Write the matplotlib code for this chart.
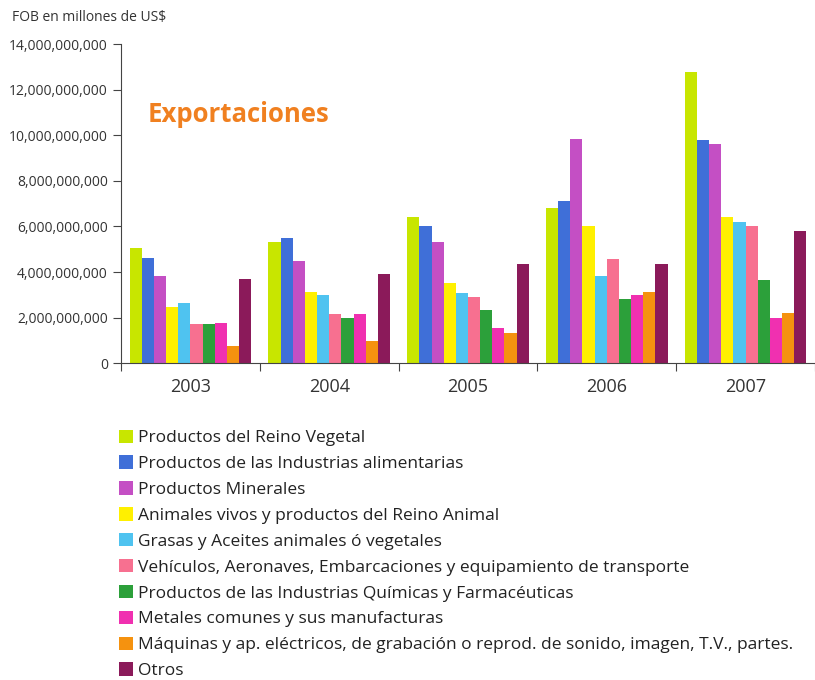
import numpy as np
import matplotlib
matplotlib.use("Agg")
import matplotlib.pyplot as plt

plt.rcParams['font.family'] = ['Open Sans', 'DejaVu Sans']

years = ['2003', '2004', '2005', '2006', '2007']

categories = [
    'Productos del Reino Vegetal',
    'Productos de las Industrias alimentarias',
    'Productos Minerales',
    'Animales vivos y productos del Reino Animal',
    'Grasas y Aceites animales ó vegetales',
    'Vehículos, Aeronaves, Embarcaciones y equipamiento de transporte',
    'Productos de las Industrias Químicas y Farmacéuticas',
    'Metales comunes y sus manufacturas',
    'Máquinas y ap. eléctricos, de grabación o reprod. de sonido, imagen, T.V., partes.',
    'Otros',
]

# values in US$, one list per category (2003..2007)
reino_vegetal = [5.05e9, 5.32e9, 6.40e9, 6.82e9, 12.77e9]
ind_alimentarias = [4.62e9, 5.50e9, 6.00e9, 7.12e9, 9.80e9]
minerales = [3.82e9, 4.50e9, 5.32e9, 9.84e9, 9.60e9]
reino_animal = [2.45e9, 3.13e9, 3.51e9, 6.03e9, 6.40e9]
grasas_aceites = [2.66e9, 2.97e9, 3.08e9, 3.84e9, 6.19e9]
vehiculos = [1.71e9, 2.15e9, 2.90e9, 4.58e9, 6.00e9]
quimicas = [1.70e9, 2.00e9, 2.32e9, 2.82e9, 3.65e9]
metales = [1.77e9, 2.16e9, 1.54e9, 2.97e9, 2.00e9]
maquinas = [0.76e9, 0.97e9, 1.32e9, 3.12e9, 2.18e9]
otros = [3.68e9, 3.93e9, 4.33e9, 4.34e9, 5.82e9]

series = [reino_vegetal, ind_alimentarias, minerales, reino_animal, grasas_aceites,
          vehiculos, quimicas, metales, maquinas, otros]

colors = ['#c8e600', '#3f6fd8', '#c44fc4', '#fff000', '#4fc3f0',
          '#f77090', '#2ca03a', '#f030b0', '#f5920f', '#8b1a5a']

fig = plt.figure(figsize=(8.15, 6.8), dpi=100)
ax = fig.add_axes([0.1485, 0.466, 0.8515, 0.469])

x = np.arange(len(years))
w = 0.0876
for i, (vals, c, lab) in enumerate(zip(series, colors, categories)):
    ax.bar(x + (i - 4.5) * w, vals, width=w, color=c, label=lab)

ax.set_xlim(-0.5, 4.405)
ax.set_ylim(0, 14e9)
ax.set_yticks(np.arange(0, 14.1e9, 2e9))
ax.set_yticklabels([f'{int(v):,}' for v in np.arange(0, 14.1e9, 2e9)], fontsize=10, color='#333333')
ax.set_xticks(np.arange(-0.5, 5, 1))
ax.set_xticklabels([])
ax.set_xticks(x, minor=True)
ax.set_xticklabels(years, minor=True, fontsize=13, color='#333333')
ax.tick_params(axis='x', which='minor', length=0, pad=11)
ax.tick_params(axis='both', which='major', direction='out', length=6, color='#444444')
for s in ['top', 'right']:
    ax.spines[s].set_visible(False)
for s in ['left', 'bottom']:
    ax.spines[s].set_color('#444444')

fig.text(0.015, 0.975, 'FOB en millones de US$', fontsize=10, color='#333333', va='center')
ax.text(0.038, 0.78, 'Exportaciones', transform=ax.transAxes, fontsize=18.5,
        fontweight='bold', color='#f08020', va='center')

fig.legend(loc='upper left', bbox_to_anchor=(0.135, 0.381), frameon=False,
           fontsize=12.5, handlelength=0.8, handleheight=0.8, handletextpad=0.3,
           labelspacing=0.53, borderpad=0, labelcolor='#222222')

fig.savefig('out.png', dpi=100)
